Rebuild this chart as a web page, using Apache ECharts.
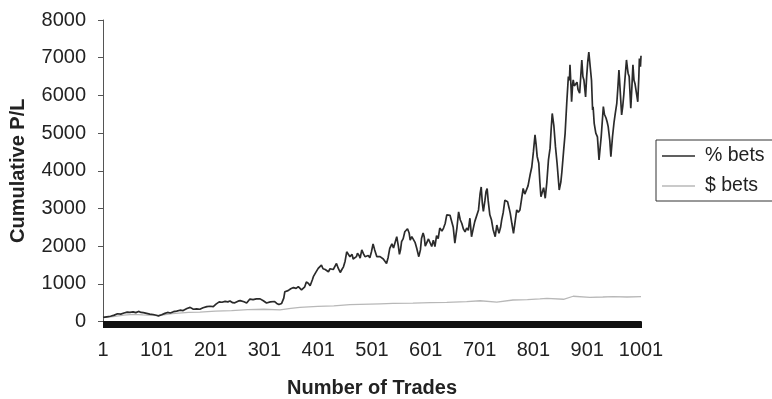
<!DOCTYPE html>
<html>
<head>
<meta charset="utf-8">
<script src="https://cdn.jsdelivr.net/npm/echarts@6/dist/echarts.min.js"></script>
<style>
  html, body { margin: 0; padding: 0; background: #fff; }
  #chart { width: 772px; height: 399px; }
</style>
</head>
<body>
<div id="chart"></div>
<script>
// Cumulative P/L of percentage-sized bets vs fixed-dollar bets, by trade number
const seriesNames = ['% bets', '$ bets'];

const pctTrades = [
  1, 8, 15, 22, 28, 34, 40, 46, 51, 57, 62, 67, 72, 76, 82, 88, 94, 100, 104, 110,
  116, 121, 126, 132, 138, 144, 150, 157, 163, 169, 175, 181, 187, 194, 200, 206, 211, 217, 222, 228,
  233, 237, 242, 246, 252, 256, 259, 263, 268, 274, 280, 286, 293, 299, 305, 308, 312, 315, 320, 324,
  328, 333, 337, 339, 345, 350, 355, 360, 364, 367, 370, 373, 376, 379, 383, 386, 390, 392, 396, 398,
  401, 404, 407, 410, 414, 417, 420, 423, 426, 429, 432, 435, 438, 442, 445, 448, 451, 454, 457, 460,
  464, 466, 469, 472, 474, 477, 479, 482, 485, 488, 491, 494, 497, 500, 503, 506, 510, 513, 516, 519,
  522, 525, 528, 531, 534, 538, 541, 544, 547, 550, 552, 554, 556, 559, 562, 564, 567, 570, 572, 575,
  578, 581, 584, 588, 591, 593, 596, 598, 600, 603, 606, 609, 612, 615, 618, 621, 624, 627, 631, 634,
  637, 640, 643, 646, 649, 652, 655, 659, 662, 665, 668, 671, 674, 677, 680, 683, 686, 689, 692, 695,
  699, 702, 704, 706, 708, 711, 713, 715, 717, 720, 723, 726, 730, 733, 737, 740, 742, 745, 748, 751,
  753, 756, 758, 761, 764, 767, 770, 773, 776, 779, 782, 785, 788, 791, 795, 798, 801, 804, 806, 808,
  811, 813, 815, 818, 820, 823, 826, 829, 832, 834, 836, 839, 842, 845, 849, 852, 854, 857, 860, 863,
  866, 868, 869, 871, 872, 874, 875, 877, 880, 882, 884, 887, 889, 891, 893, 895, 898, 900, 902, 904,
  905, 907, 909, 911, 912, 914, 917, 920, 923, 925, 927, 929, 931, 933, 936, 938, 940, 943, 945, 948,
  951, 953, 956, 958, 960, 962, 965, 967, 969, 971, 974, 976, 977, 979, 982, 984, 986, 988, 990, 992,
  995, 997, 998, 1000, 1001
];
const pctValues = [
  110, 125, 140, 170, 205, 195, 225, 250, 240, 255, 235, 268, 240, 235, 215, 195, 185, 165, 150, 180,
  215, 240, 225, 260, 275, 300, 290, 345, 375, 325, 335, 325, 365, 395, 405, 395, 460, 520, 510, 535,
  520, 545, 500, 495, 540, 555, 590, 525, 490, 595, 580, 600, 600, 550, 490, 440, 520, 570, 530, 480,
  450, 480, 620, 790, 820, 870, 900, 880, 925, 960, 840, 880, 920, 1050, 1010, 950, 1100, 1190, 1290, 1320,
  1410, 1450, 1495, 1400, 1380, 1340, 1320, 1400, 1450, 1380, 1340, 1540, 1420, 1300, 1380, 1450, 1600, 1850, 1880, 1720,
  1780, 1660, 1630, 1720, 1810, 1750, 1680, 1900, 1800, 1720, 1690, 1750, 1690, 1850, 2060, 1900, 1720, 1760, 1720, 1690,
  1660, 1620, 1540, 1700, 1940, 2060, 1950, 2000, 2250, 2000, 1780, 1900, 2120, 2200, 2380, 2430, 2460, 2350, 2160, 2250,
  2210, 2100, 1950, 1720, 1900, 2200, 2350, 2250, 2000, 1990, 2190, 2160, 1990, 2160, 1990, 2280, 2200, 2480, 2400, 2480,
  2600, 2830, 2870, 2820, 2790, 2500, 2080, 2500, 2910, 2700, 2600, 2450, 2380, 2480, 2420, 2740, 2250, 2450, 2650, 2700,
  2960, 3400, 3570, 3150, 2920, 3220, 3450, 3530, 3200, 2830, 2700, 2450, 2250, 2560, 2340, 2500, 2690, 2900, 3220, 3200,
  3180, 3000, 2870, 2600, 2340, 2650, 2960, 2900, 2960, 3250, 3530, 3380, 3400, 3600, 3900, 4100, 4500, 4950, 4700, 4380,
  4200, 3700, 3310, 3350, 3550, 3270, 3700, 4290, 4600, 5100, 5520, 5200, 4640, 4200, 3490, 3700, 3980, 4500, 5000, 5800,
  6500, 6400, 6810, 6200, 5830, 6300, 6410, 6250, 6200, 6350, 6150, 6060, 6500, 6940, 6500, 6400, 5960, 6500, 6890, 7150,
  7200, 7100, 6400, 5610, 5700, 5260, 5000, 4900, 4290, 4600, 4900, 5300, 5700, 5500, 5400, 5300, 5170, 4800, 4370, 4900,
  5300, 5500, 5790, 6200, 6670, 6200, 5480, 5700, 6010, 6400, 6940, 6700, 6590, 6500, 5660, 6200, 6810, 6400, 6300, 6300,
  5830, 6500, 6980, 6760, 7050
];

const dollarTrades = [
  1, 20, 40, 57, 75, 104, 130, 160, 181, 210, 240, 270, 300, 330, 350, 367, 400, 430, 460, 516,
  540, 577, 610, 640, 677, 702, 733, 763, 790, 813, 826, 857, 875, 906, 930, 949, 975, 1001
];
const dollarValues = [
  105, 130, 170, 190, 175, 155, 210, 240, 250, 275, 290, 315, 325, 310, 350, 375, 400, 415, 450, 470,
  480, 485, 500, 510, 525, 550, 515, 570, 580, 600, 615, 590, 670, 640, 650, 660, 650, 660
];

const xTickLabels = ['1', '101', '201', '301', '401', '501', '601', '701', '801', '901', '1001'];
const yMax = 8000, yStep = 1000;
const tradeCount = 1001;

// the x axis runs over (trade - 1) so labels fall on 1, 101, ... 1001
const toPairs = (ts, vs) => ts.map((t, i) => [t - 1, vs[i]]);
// one tick mark per trade, packed into a solid band under the axis
const tradeTicks = Array.from({ length: tradeCount }, (_, i) => i);

const font = '"Liberation Sans", Arial, Helvetica, sans-serif';
const chart = echarts.init(document.getElementById('chart'), null, { renderer: 'canvas' });

chart.setOption({
  animation: false,
  backgroundColor: '#ffffff',
  textStyle: { fontFamily: font },
  grid: { left: 103, right: 131, top: 20, bottom: 77.5, containLabel: false, outerBoundsMode: 'none' },
  legend: {
    data: seriesNames,
    orient: 'vertical',
    left: 656,
    top: 140,
    padding: [6, 8, 5, 6],
    icon: 'rect',
    itemWidth: 33,
    itemHeight: 1.5,
    itemGap: 10,
    borderColor: '#333',
    borderWidth: 1,
    borderRadius: 0,
    textStyle: { fontFamily: font, fontSize: 19.5, color: '#222', lineHeight: 20, padding: [0, 0, 0, 5] }
  },
  xAxis: {
    type: 'value',
    min: 0,
    max: 1000,
    interval: 100,
    name: 'Number of Trades',
    nameLocation: 'middle',
    nameGap: 56.5,
    nameTextStyle: { fontFamily: font, fontSize: 20, fontWeight: 'bold', color: '#222' },
    splitLine: { show: false },
    axisLine: { show: true, onZero: false, lineStyle: { color: '#111', width: 1 } },
    axisTick: { show: true, length: 6.5, customValues: tradeTicks, lineStyle: { color: '#111', width: 1 } },
    minorTick: { show: false },
    axisLabel: {
      margin: 19,
      fontFamily: font,
      fontSize: 20,
      color: '#222',
      formatter: v => xTickLabels[Math.round(v / 100)]
    }
  },
  yAxis: {
    type: 'value',
    min: 0,
    max: yMax,
    interval: yStep,
    name: 'Cumulative P/L',
    nameLocation: 'middle',
    nameGap: 75,
    nameTextStyle: { fontFamily: font, fontSize: 20, fontWeight: 'bold', color: '#222' },
    splitLine: { show: false },
    axisLine: { show: true, lineStyle: { color: '#555', width: 1 } },
    axisTick: { show: true, length: 5, lineStyle: { color: '#555', width: 1 } },
    axisLabel: { margin: 17, fontFamily: font, fontSize: 20, color: '#222', formatter: v => String(v) }
  },
  series: [
    {
      name: seriesNames[0],
      type: 'line',
      data: toPairs(pctTrades, pctValues),
      symbol: 'none',
      z: 3,
      lineStyle: { color: '#2b2b2b', width: 1.7 },
      itemStyle: { color: '#2b2b2b' }
    },
    {
      name: seriesNames[1],
      type: 'line',
      data: toPairs(dollarTrades, dollarValues),
      symbol: 'none',
      z: 2,
      lineStyle: { color: '#b8b8b8', width: 1.3 },
      itemStyle: { color: '#b8b8b8' }
    }
  ]
});
</script>
</body>
</html>
